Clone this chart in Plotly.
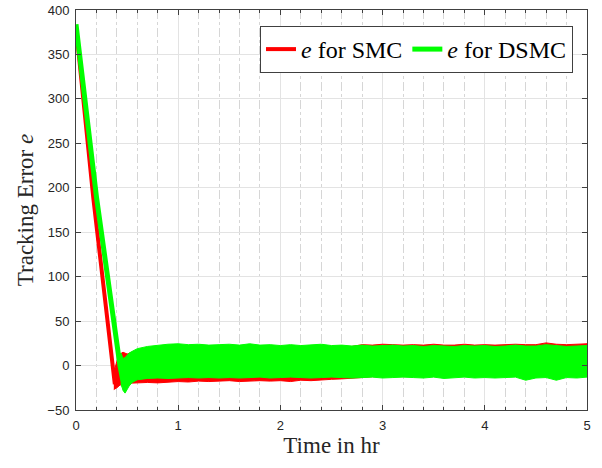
import plotly.graph_objects as go

# ---------------- data ----------------
# SMC: initial descent (centre line) and chattering band envelopes
smc_drop_t = [0.0, 0.17, 0.38]
smc_drop_e = [381, 188, -21]

smc_band_t = [0.37, 0.40, 0.43, 0.46, 0.50, 0.55,
              0.6, 0.7, 0.8, 0.9, 1.0, 1.1, 1.2, 1.3, 1.4, 1.5, 1.6, 1.7, 1.8, 1.9,
              2.0, 2.1, 2.2, 2.3, 2.4, 2.5, 2.6, 2.7, 2.8, 2.9, 3.0, 3.1, 3.2, 3.3,
              3.4, 3.5, 3.6, 3.7, 3.8, 3.9, 4.0, 4.1, 4.2, 4.3, 4.4, 4.5, 4.6, 4.7,
              4.8, 4.9, 5.0]
smc_upper = [-8, 5, 13, 15, 13, 15,
             17, 19, 20, 20.5, 21, 20.5, 21, 20.5, 21, 20.5, 21, 21, 20.5, 21,
             20.5, 21, 20.5, 21, 21, 20.5, 21, 21.5, 23.5, 23, 24, 23.5, 23, 23.5,
             23, 24, 23, 23, 24, 23, 23.5, 23, 23.5, 24, 23.5, 23.5, 25.5, 24,
             23.5, 24, 24.5]
smc_lower = [-27, -25, -22, -21, -20, -19.5,
             -19.5, -19, -19.5, -18.5, -18, -18.5, -17.5, -18, -17.5, -17, -18, -17.5, -17, -17.5,
             -17, -18, -16.5, -17, -16, -15.5, -15, -14.5, -13.5, -12.5, -12, -12, -12, -12,
             -12, -12, -12, -12, -12, -12, -12, -12, -12, -12, -12, -12, -12, -12,
             -12, -12, -12]

# DSMC: initial descent (centre line) and chattering band envelopes
dsmc_drop_t = [0.0, 0.2, 0.43, 0.47]
dsmc_drop_e = [384, 190, 0, -24]

dsmc_band_t = [0.44, 0.46, 0.48, 0.50, 0.52, 0.55,
               0.6, 0.7, 0.8, 0.9, 1.0, 1.1, 1.2, 1.3, 1.4, 1.5, 1.6, 1.7, 1.8, 1.9,
               2.0, 2.1, 2.2, 2.3, 2.4, 2.5, 2.6, 2.7, 2.8, 2.9, 3.0, 3.1, 3.2, 3.3,
               3.4, 3.5, 3.6, 3.7, 3.8, 3.9, 4.0, 4.1, 4.2, 4.3, 4.4, 4.5, 4.6, 4.7,
               4.8, 4.9, 5.0]
dsmc_upper = [14, 8, 9, 12, 14, 16,
              19, 21.5, 23, 24, 24.5, 23.5, 24, 23, 23.5, 24, 23, 24.5, 23, 23.5,
              22.5, 23.5, 22.5, 23, 24, 22.5, 23, 22, 23, 22, 22.5, 23, 22, 22.5,
              21.5, 22.5, 22, 21.5, 22.5, 22, 22.5, 21.5, 22, 23, 22, 22, 23.5, 22.5,
              21.5, 22, 22.5]
dsmc_lower = [-20, -28, -31, -27, -23, -19,
              -16, -14.5, -14, -14.5, -14, -13.5, -14, -13.5, -14, -13.5, -14, -13.5, -13, -14,
              -13.5, -13, -13.5, -14, -13.5, -13, -13.5, -14, -13.5, -13, -14, -13.5, -13, -13.5,
              -14, -13, -14.5, -13.5, -13, -14, -13.5, -14, -13.5, -13, -16.5, -14, -13.5, -16.5,
              -13.5, -14, -13]

series_names = ["<i>e</i> for SMC", "<i>e</i> for DSMC"]
x_ticks = [0, 1, 2, 3, 4, 5]
y_ticks = [-50, 0, 50, 100, 150, 200, 250, 300, 350, 400]

RED = "#ff0000"
GREEN = "#00ff00"

fig = go.Figure()

def add_series(drop_t, drop_e, band_t, upper, lower, color, name, width):
    fig.add_trace(go.Scatter(
        x=band_t + band_t[::-1], y=upper + lower[::-1],
        mode="lines", fill="toself", fillcolor=color,
        line=dict(color=color, width=1), showlegend=False, legendgroup=name,
        hoverinfo="skip"))
    fig.add_trace(go.Scatter(
        x=drop_t, y=drop_e, mode="lines", name=name, legendgroup=name,
        line=dict(color=color, width=width)))

add_series(smc_drop_t, smc_drop_e, smc_band_t, smc_upper, smc_lower, RED, series_names[0], 4)
add_series(dsmc_drop_t, dsmc_drop_e, dsmc_band_t, dsmc_upper, dsmc_lower, GREEN, series_names[1], 5)

axis_common = dict(
    showline=True, linecolor="#404040", linewidth=1, mirror="ticks",
    ticks="inside", ticklen=5, tickcolor="#404040",
    showgrid=True, gridcolor="#e3e3e3", gridwidth=1, zeroline=False,
    automargin=False, ticklabeloverflow="allow",
    tickfont=dict(family="Liberation Sans, Arial, sans-serif", size=13, color="#262626"),
)

fig.update_xaxes(
    range=[0, 5], tickvals=x_ticks, ticklabelstandoff=3,
    title=dict(text="Time in hr", font=dict(family="Liberation Serif, serif", size=23, color="#262626"), standoff=2),
    minor=dict(dtick=0.2, ticks="inside", ticklen=3, tickcolor="#404040",
               showgrid=True, gridcolor="#d6d6d6", griddash="dashdot", gridwidth=1),
    **axis_common)
fig.update_yaxes(
    range=[-50, 400], tickvals=y_ticks, ticklabelstandoff=3,
    title=dict(text="Tracking Error <i>e</i>", font=dict(family="Liberation Serif, serif", size=23, color="#262626"), standoff=7),
    **axis_common)

fig.update_layout(
    width=602, height=468,
    margin=dict(l=76, r=15, t=10, b=58),
    plot_bgcolor="white", paper_bgcolor="white",
    legend=dict(
        orientation="h", x=0.9726, xanchor="right", y=0.96, yanchor="top",
        bgcolor="white", bordercolor="#404040", borderwidth=1,
        font=dict(family="Liberation Serif, serif", size=24, color="#000000"),
        itemwidth=30, traceorder="normal",
    ),
    showlegend=True,
)

# remove the default 8px page margin so the 602x468 figure fills the window
fig.write_html("out.html", config={"displayModeBar": False},
               post_script="document.body.style.margin='0px';")
